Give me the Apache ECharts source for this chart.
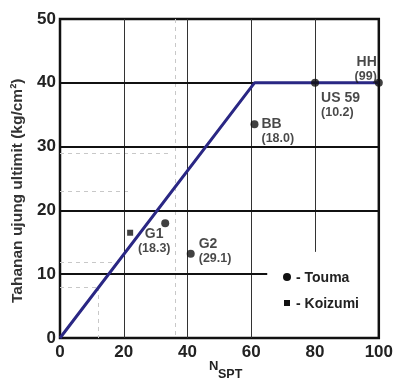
<!DOCTYPE html>
<html><head><meta charset="utf-8">
<script src="https://cdn.jsdelivr.net/npm/echarts@6/dist/echarts.min.js"></script>
<style>html,body{margin:0;padding:0;background:#fff}#c{width:396px;height:383px}</style>
</head><body><div id="c"></div>
<script>
// ---- data ----
var xTicks = [0, 20, 40, 60, 80, 100];
var yTicks = [0, 10, 20, 30, 40, 50];
var lineX = [0, 61, 100];
var lineY = [0, 40, 40];
var toumaNames = ['BB', 'US 59', 'HH', 'G1', 'G2'];
var toumaVals = ['18.0', '10.2', '99', '18.3', '29.1'];
var toumaX = [61, 80, 100, 33, 41];
var toumaY = [33.5, 40, 40, 18, 13.2];
var koizumiX = [22];
var koizumiY = [16.5];
var legendNames = ['Touma', 'Koizumi'];

// ---- styles ----
var labelStyle = {
  'BB':    {position: 'right', distance: 3, align: 'left', offsetY: 7},
  'US 59': {position: 'bottom', distance: 4, align: 'left', offsetX: 6},
  'HH':    {position: 'top', distance: 0, align: 'right', offsetX: -2, offsetY: 5},
  'G1':    {position: 'bottom', distance: 0, align: 'center', offsetX: -11},
  'G2':    {position: 'right', distance: 4, align: 'left', offsetY: -2}
};
var FONT = '"Liberation Sans", Arial, sans-serif';
var lineColor = '#2a2784';

var toumaData = toumaX.map(function (x, i) {
  var s = labelStyle[toumaNames[i]];
  return {
    value: [x, toumaY[i]],
    name: toumaNames[i],
    label: {
      show: true, position: s.position, distance: s.distance, align: s.align,
      offset: [s.offsetX || 0, s.offsetY || 0],
      formatter: '{a|' + toumaNames[i] + '}\n{b|(' + toumaVals[i] + ')}',
      rich: {
        a: {fontFamily: FONT, fontWeight: 'bold', fontSize: 14, color: '#1a1a1a', align: s.align, lineHeight: 14},
        b: {fontFamily: FONT, fontWeight: 'bold', fontSize: 12.5, color: '#1a1a1a', align: s.align, lineHeight: 15}
      }
    }
  };
});
var koizumiData = koizumiX.map(function (x, i) { return [x, koizumiY[i]]; });

function seg(x1, y1, x2, y2) { return [{coord: [x1, y1]}, {coord: [x2, y2]}]; }

var chart = echarts.init(document.getElementById('c'), null, {renderer: 'canvas'});
chart.setOption({
  animation: false,
  backgroundColor: '#fff',
  grid: {left: 60, right: 11, top: 19, bottom: 45, show: true, borderColor: '#111', borderWidth: 2.5, backgroundColor: 'transparent'},
  xAxis: {
    type: 'value', min: xTicks[0], max: xTicks[xTicks.length - 1], interval: 20,
    axisLine: {show: false}, axisTick: {show: false},
    axisLabel: {fontFamily: FONT, fontWeight: 'bold', fontSize: 17, color: '#222', margin: 6},
    splitLine: {show: false}
  },
  yAxis: {
    type: 'value', min: yTicks[0], max: yTicks[yTicks.length - 1], interval: 10,
    axisLine: {show: false}, axisTick: {show: false},
    axisLabel: {fontFamily: FONT, fontWeight: 'bold', fontSize: 17, color: '#222', margin: 4},
    splitLine: {show: false}
  },
  series: [
    {
      type: 'line', data: [], silent: true,
      markLine: {
        silent: true, symbol: 'none', label: {show: false},
        lineStyle: {color: '#c8c8c8', width: 1, type: [4, 4]},
        data: [seg(0, 29, 35, 29), seg(0, 23, 22, 23), seg(0, 11.8, 18, 11.8), seg(0, 8, 12, 8), seg(36, 50, 36, 0), seg(12, 8, 12, 0)]
      }
    },
    {
      type: 'line', data: [], silent: true,
      markLine: {
        silent: true, symbol: 'none', label: {show: false},
        lineStyle: {color: '#333', width: 1, type: 'solid'},
        data: [seg(20, 0, 20, 50), seg(40, 0, 40, 50), seg(60, 0, 60, 50), seg(80, 13.5, 80, 50)]
      }
    },
    {
      type: 'line', data: [], silent: true,
      markLine: {
        silent: true, symbol: 'none', label: {show: false},
        lineStyle: {color: '#111', width: 2.2, type: 'solid'},
        data: [seg(0, 10, 65, 10), seg(0, 20, 100, 20), seg(0, 30, 100, 30), seg(0, 40, 100, 40)]
      }
    },
    {
      type: 'line', data: lineX.map(function (x, i) { return [x, lineY[i]]; }),
      symbol: 'none', lineStyle: {color: lineColor, width: 3}, z: 5, silent: true
    },
    {
      type: 'scatter', name: legendNames[0], data: toumaData, symbol: 'circle', symbolSize: 8,
      itemStyle: {color: '#111'}, z: 6
    },
    {
      type: 'scatter', name: legendNames[1], data: koizumiData, symbol: 'rect', symbolSize: 6,
      itemStyle: {color: '#111'}, z: 6
    }
  ],
  graphic: [
    {type: 'text', rotation: Math.PI / 2,
     style: {text: 'Tahanan ujung ultimit (kg/cm²)', fontFamily: FONT, fontWeight: 'bold', fontSize: 15.5, fill: '#333'},
     position: [10, 303]},
    {type: 'text', position: [209, 360], style: {text: 'N', fontFamily: FONT, fontWeight: 'bold', fontSize: 13, fill: '#222'}},
    {type: 'text', position: [218, 368], style: {text: 'SPT', fontFamily: FONT, fontWeight: 'bold', fontSize: 12.5, fill: '#222'}},
    {type: 'circle', shape: {cx: 287, cy: 277, r: 4}, style: {fill: '#111'}},
    {type: 'text', position: [296, 271], style: {text: '- ' + legendNames[0], fontFamily: FONT, fontWeight: 'bold', fontSize: 14, fill: '#222'}},
    {type: 'rect', shape: {x: 284, y: 300, width: 6, height: 6}, style: {fill: '#111'}},
    {type: 'text', position: [296, 297], style: {text: '- ' + legendNames[1], fontFamily: FONT, fontWeight: 'bold', fontSize: 14, fill: '#222'}}
  ]
});
</script></body></html>
